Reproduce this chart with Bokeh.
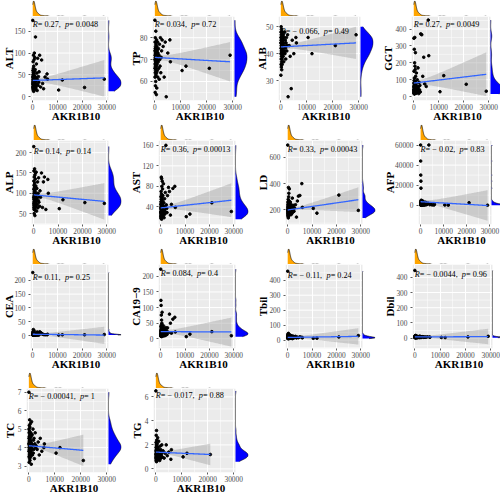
import numpy as np
from bokeh.plotting import figure
from bokeh.layouts import row, column
from bokeh.models import FixedTicker, Label, Range1d
from bokeh.embed import file_html
from bokeh.resources import INLINE

nan = float("nan")

# ---------------- data ----------------
AKR1B10 = [10, 25, 40, 55, 70, 85, 100, 115, 130, 145,
           160, 175, 190, 205, 220, 235, 250, 265, 280, 300,
           320, 340, 360, 380, 400, 420, 440, 460, 480, 500,
           525, 550, 575, 600, 630, 660, 690, 720, 750, 780,
           820, 860, 900, 950, 1000, 1060, 1120, 1200, 1300, 1400,
           1500, 1600, 1700, 1800, 1900, 2000, 2150, 2300, 2450, 2600,
           2800, 3200, 3600, 4000, 4400, 5000, 5800, 6000, 10500, 12000, 21000, 29000]

ALT = [30, 175, 45, 22, 60, 35, 18, 50, 28, 40, 80, 25, 33, 15, 55, 38, 20, 65, 42, 27,
       95, 32, 48, 12, 36, 70, 24, 44, 30, 30, 52, 26, 85, 40, 18, 100, 34, 58, 22, 90,
       28, 47, 16, 38, 62, 24, 137, 35, 20, 43, 75, 29, 54, 14, 39, 88, 26, 46, 33, 57,
       95, 22, 84, 30, 18, 45, 52, 40, 15, 38, 21, 40]
TP = [70, 88, 66, 74, 62, 72, 78, 68, 55, 75, 64, 71, 80, 67, 73, 58, 69, 76, 65, 72,
      60, 70, 74, 83, 68, 63, 77, 71, 66, 73, 69, 75, 54, 70, 67, 79, 64, 72, 57, 76,
      71, 68, 74, 65, 70, 78, 62, 73, 69, 75, 66, 72, 61, 77, 70, 67, 80, 64, 71, 74,
      79, 76, 62, 78, 53, 73, 79, 69, 65, 67, 66, 72]
ALB = [44, 32, 46, 40, 48, 42, 36, 45, 50, 38, 43, 47, 35, 41, 44, 49, 39, 46, 42, 37,
       45, 34, 43, 48, 40, 46, 41, 38, 44, 47, 36, 42, 45, 39, 43, 46, 41, 44, 48, 40,
       43, 45, 39, 47, 42, 44, 37, 46, 41, 43, 48, 40, 45, 42, 38, 44, 46, 41, 43, 47,
       24, 43, 39, 27, 45, 40, 46, 44, 46, 40, 43, 47]
GGT = [40, 60, 25, 345, 80, 35, 150, 20, 55, 30, 95, 45, 18, 280, 70, 28, 110, 50, 15, 65,
       38, 200, 22, 85, 42, 350, 30, 58, 180, 26, 75, 48, 160, 34, 90, 260, 52, 40, 120, 68,
       32, 55, 20, 78, 44, 140, 26, 62, 36, 100, 24, 48, 170, 30, 58, 18, 84, 40, 66, 28,
       371, 366, 120, 233, 75, 60, 453, 242, 29, 124, 73, 32]
ALP = [90, 215, 75, 110, 65, 130, 85, 155, 70, 100, 60, 120, 80, 95, 50, 140, 72, 105, 88, 62,
       115, 78, 160, 92, 68, 125, 82, 98, 45, 145, 76, 108, 86, 58, 135, 94, 70, 150, 102, 84,
       66, 118, 90, 74, 152, 80, 96, 56, 112, 88, 72, 128, 64, 100, 82, 138, 78, 92, 68, 106,
       90, 150, 65, 128, 140, 60, 134, 100, 62, 84, 77, 75]
AST = [30, 45, 22, 38, 60, 28, 18, 50, 35, 25, 70, 40, 20, 32, 55, 27, 98, 42, 24, 36,
       65, 30, 16, 48, 95, 26, 34, 80, 44, 21, 34, 38, 58, 29, 90, 33, 46, 25, 75, 52,
       28, 36, 62, 23, 42, 31, 85, 27, 48, 19, 34, 56, 26, 40, 68, 30, 160, 44, 37, 29,
       62, 78, 70, 24, 45, 76, 80, 39, 21, 26, 48, 31]
LD = [200, 692, 180, 220, 160, 240, 190, 260, 170, 210, 150, 230, 195, 280, 175, 205, 140, 250, 185, 215,
      371, 165, 225, 190, 300, 155, 245, 200, 327, 180, 210, 270, 160, 235, 195, 360, 175, 220, 185, 250,
      205, 170, 230, 190, 215, 260, 180, 200, 225, 165, 240, 195, 210, 175, 290, 185, 220, 200, 235, 190,
      215, 240, 146, 268, 305, 310, 400, 220, 212, 176, 313, 197]
AFP = [60000, 1200, 44000, 300, 2500, 30000, 800, 4000, 150, 24000, 600, 17000, 2000, 100, 3000, 500, 1500, 250, 5000, 900,
       50, 3500, 1800, 400, 700, 2200, 200, 1000, 3200, 80, 1400, 600, 2700, 350, 1100, 4500, 500, 1600, 900, 2000,
       300, 1300, 700, 2400, 150, 900, 3800, 450, 1200, 600, 2100, 250, 800, 1700, 400, 1000, 2900, 550, 1300, 700,
       800, 2000, 60000, 500, 1500, 300, 200, 1000, 200, 100, 2500, 50]
CEA = [3, 228, 5, 2, 8, 4, 12, 3, 6, 2, 15, 4, 3, 7, 2, 5, 22, 3, 9, 4,
       2, 6, 3, 11, 4, 2, 5, 8, 3, 6, 4, 18, 2, 7, 3, 5, 10, 4, 2, 6,
       3, 5, 2, 4, 9, 3, 6, 2, 4, 7, 3, 5, 2, 13, 4, 3, 6, 2, 5, 3,
       14, 11, 8, 5, 4, 3, 3, 5, 2, 3, 3, 4]
CA199 = [15, 223, 25, 10, 40, 18, 123, 8, 30, 12, 20, 107, 14, 35, 9, 22, 76, 16, 28, 11,
         45, 19, 60, 13, 24, 7, 33, 17, 50, 21, 10, 26, 85, 15, 38, 12, 23, 18, 30, 14,
         20, 27, 11, 34, 16, 42, 9, 25, 13, 31, 18, 22, 10, 28, 15, 36, 12, 19, 26, 14,
         35, 20, 79, 50, 18, 63, 69, 22, 7, 15, 23, 10]
TBIL = [15, 460, 20, 12, 30, 18, 10, 25, 40, 14, 16, 22, 35, 11, 19, 28, 13, 24, 17, 45,
        12, 20, 15, 32, 18, 10, 26, 14, 21, 38, 16, 23, 12, 19, 29, 15, 22, 17, 13, 27,
        14, 20, 11, 25, 17, 33, 13, 21, 16, 24, 12, 19, 28, 15, 22, 10, 18, 26, 14, 20,
        18, 25, 14, 20, 16, 22, 19, 15, 12, 13, 21, 30]
DBIL = [6, 445, 8, 4, 12, 5, 3, 9, 15, 5, 6, 7, 14, 4, 8, 10, 5, 11, 6, 18,
        4, 7, 5, 13, 6, 3, 9, 5, 8, 16, 6, 9, 4, 7, 11, 5, 8, 6, 4, 10,
        5, 7, 3, 9, 6, 12, 4, 8, 5, 7, 6, 10, 4, 8, 5, 13, 6, 7, 4, 9,
        7, 10, 5, 8, 6, 9, 7, 6, 5, 4, 8, 12]
TC = [4.2, 7.0, 3.8, 4.5, 5.0, 3.5, 4.0, 4.8, 3.2, 4.3, 4.6, 3.9, 5.2, 4.1, 3.6, 4.4, 4.9, 3.7, 4.2, 5.5,
      3.4, 4.0, 4.7, 3.8, 4.3, 5.1, 3.3, 4.5, 4.0, 3.9, 4.6, 3.6, 4.2, 5.3, 3.7, 4.4, 4.1, 3.5, 4.8, 4.0,
      4.3, 3.8, 4.6, 3.1, 4.0, 5.4, 3.9, 4.2, 4.7, 3.6, 4.1, 5.0, 3.7, 4.4, 3.9, 4.5, 3.4, 4.2, 4.8, 4.0,
      4.1, 3.9, 4.3, 3.6, 4.5, 3.8, 4.0, 4.2, 3.7, 4.0, 3.3, nan]
TG = [1.2, 6.5, 0.9, 1.5, 2.2, 1.0, 1.8, 0.7, 1.3, 2.8, 1.1, 1.6, 0.8, 2.0, 1.4, 0.6, 1.2, 3.2, 1.0, 1.7,
      0.9, 1.3, 2.4, 1.1, 0.8, 1.5, 1.9, 1.0, 1.2, 0.7, 1.6, 2.1, 1.3, 0.9, 1.4, 1.1, 2.6, 1.0, 1.8, 1.2,
      1.4, 0.8, 1.1, 1.7, 1.3, 0.9, 2.3, 1.2, 1.0, 1.5, 0.7, 1.3, 1.9, 1.1, 1.6, 0.9, 1.2, 2.0, 1.0, 1.4,
      1.5, 0.9, 1.3, 2.0, 1.1, 1.4, 0.8, 1.6, 1.0, 1.3, 1.2, nan]

NAMES = ["ALT", "TP", "ALB", "GGT", "ALP", "AST", "LD", "AFP", "CEA", "CA19\u22129", "Tbil", "Dbil", "TC", "TG"]
SERIES = [ALT, TP, ALB, GGT, ALP, AST, LD, AFP, CEA, CA199, TBIL, DBIL, TC, TG]
R_TEXT = ["0.27", "0.034", "\u2212 0.066", "0.27", "0.14", "0.36", "0.33", "\u2212 0.02",
          "0.11", "0.084", "\u2212 0.11", "\u2212 0.0044", "\u2212 0.00041", "\u2212 0.017"]
P_TEXT = ["0.0048", "0.72", "0.49", "0.0049", "0.14", "0.00013", "0.00043", "0.83",
          "0.25", "0.4", "0.24", "0.96", "1", "0.88"]
Y_TICKS = [[0, 50, 100, 150], [60, 70, 80], [30, 40, 50], [0, 100, 200, 300, 400],
           [50, 100, 150, 200], [40, 80, 120, 160], [200, 400, 600], [0, 20000, 40000, 60000],
           [0, 50, 100, 150, 200], [0, 50, 100, 150, 200], [0, 100, 200, 300, 400],
           [0, 100, 200, 300, 400], [3, 4, 5, 6, 7], [0, 2, 4, 6]]
Y_RANGE = [(-9, 184), (51.3, 89.7), (22.6, 53.8), (-23, 474), (23, 230), (5.7, 169.4),
           (90, 727), (-19200, 64500), (-46.5, 257), (-31, 238), (-56, 505), (-68, 484),
           (2.65, 7.2), (-0.3, 6.7)]
X_TICKS = [0, 10000, 20000, 30000]
X_MINOR = [5000, 15000, 25000]
X_RANGE = (-900, 30700)

# fitted regression line (value at x=0 and at x end) and confidence band at x end
FIT_START = [37, 71, 42.5, 80, 96, 38, 200, 3500, 5, 23, 18, 8, 4.1, 1.4]
FIT_END = [43, 69, 44, 132, 80, 53, 278, -300, 2, 22, 25, 10, 3.85, 1.2]
FIT_XEND = [29000] * 12 + [21000, 21000]
BAND_END_LO = [0, 60, 38, 3, 35, 20, 185, -15500, -30, -25, -30, -40, 3.0, 0.3]
BAND_END_HI = [84, 78, 50, 262, 125, 86, 372, 15000, 32, 68, 80, 62, 4.7, 2.1]

# ---------------- layout / style ----------------
CELL_W = 121
TOP_H = 16
MH = 84
BOT = 20
RW = 13
LEFT = [24, 20, 20, 26, 25, 25, 25, 32, 24, 25, 25, 25, 20, 20]
MAIN_W = [78, 82, 82, 79, 77, 77, 77, 73, 78, 77, 77, 80, 82, 82]
FONT = "Liberation Serif"
TICK_FS = 7.4
ANN_FS = 8.2
LAB_FS = 11
PANEL_BG = "#EBEBEB"


def text_w(s, fs):
    w = {'.': 0.25, ',': 0.25, ' ': 0.25, '=': 0.564, '\u2212': 0.564, 'R': 0.611, 'p': 0.5}
    return sum(w.get(c, 0.5) for c in s) * fs


def kde(vals):
    v = np.asarray(vals, float)
    v = v[~np.isnan(v)]
    sd = v.std(ddof=1)
    q75, q25 = np.percentile(v, [75, 25])
    iqr = (q75 - q25) / 1.34
    s = min(sd, iqr) if iqr > 0 else sd
    bw = 0.9 * s * len(v) ** -0.2
    g = np.linspace(v.min(), v.max(), 400)
    d = np.exp(-0.5 * ((g[:, None] - v[None, :]) / bw) ** 2).sum(1) / (len(v) * bw * np.sqrt(2 * np.pi))
    return g, d


def minor_ticks(ticks, lo, hi):
    step = ticks[1] - ticks[0]
    ext = [ticks[0] - step] + list(ticks)
    return [t + step / 2 for t in ext if lo <= t + step / 2 <= hi]


def make_cell(i):
    L, MW = LEFT[i], MAIN_W[i]
    RB = CELL_W - L - MW - RW
    ylo, yhi = Y_RANGE[i]
    xlo, xhi = X_RANGE
    xv = np.asarray(AKR1B10, float)
    yv = np.asarray(SERIES[i], float)
    ok = ~np.isnan(yv)
    xv, yv = xv[ok], yv[ok]

    # main frame = scatter panel + right marginal strip
    x_end_total = xhi + (xhi - xlo) * RW / MW
    main = figure(frame_width=MW + RW, frame_height=MH, x_range=Range1d(xlo, x_end_total),
                  y_range=Range1d(ylo, yhi),
                  output_backend="svg", toolbar_location=None,
                  min_border_left=L, min_border_right=RB, min_border_top=0, min_border_bottom=BOT,
                  background_fill_color="white", border_fill_color="white", outline_line_color=None)
    main.quad(left=xlo, right=xhi, bottom=ylo, top=yhi, fill_color=PANEL_BG, line_color=None, level="image")
    yt = Y_TICKS[i]
    ym = minor_ticks(yt, ylo, yhi)
    main.xaxis.ticker = FixedTicker(ticks=X_TICKS, minor_ticks=X_MINOR)
    main.yaxis.ticker = FixedTicker(ticks=yt, minor_ticks=ym)
    main.xgrid.grid_line_color = "white"
    main.xgrid.grid_line_width = 1
    main.xgrid.minor_grid_line_color = "white"
    main.xgrid.minor_grid_line_width = 0.5
    main.ygrid.visible = False
    main.segment(x0=xlo, x1=xhi, y0=ym, y1=ym, line_color="white", line_width=0.5, level="underlay")
    main.segment(x0=xlo, x1=xhi, y0=yt, y1=yt, line_color="white", line_width=1, level="underlay")
    for ax in (main.xaxis, main.yaxis):
        ax.axis_line_color = None
        ax.major_tick_line_color = "#333333"
        ax.major_tick_line_width = 0.8
        ax.major_tick_out = 2
        ax.major_tick_in = 0
        ax.minor_tick_line_color = None
        ax.major_label_text_font = FONT
        ax.major_label_text_font_size = f"{TICK_FS}px"
        ax.major_label_text_color = "#4D4D4D"
        ax.axis_label_text_font = FONT
        ax.axis_label_text_font_style = "bold"
        ax.axis_label_text_font_size = f"{LAB_FS}px"
        ax.axis_label_text_color = "black"
    main.xaxis.axis_label = "AKR1B10"
    main.xaxis.major_label_standoff = -1
    main.xaxis.axis_label_standoff = -3
    main.yaxis.axis_label = NAMES[i]
    main.yaxis.major_label_standoff = 1
    lab_w = max(text_w(str(t), TICK_FS) for t in yt)
    main.yaxis.axis_label_standoff = int(np.floor(L - 2 - 1 - lab_w - LAB_FS * 1.2 - 0.5))

    # confidence band + regression line
    xend = FIT_XEND[i]
    xs = np.linspace(xv.min(), xend, 80)
    fit = FIT_START[i] + (FIT_END[i] - FIT_START[i]) * xs / xend
    hwe = (BAND_END_HI[i] - BAND_END_LO[i]) / 2
    h0 = 0.13 * hwe
    xm = 2500
    hw = np.sqrt(h0 ** 2 + (hwe ** 2 - h0 ** 2) * ((xs - xm) / (xend - xm)) ** 2)
    cen_shift = (BAND_END_HI[i] + BAND_END_LO[i]) / 2 - FIT_END[i]
    cen = fit + cen_shift * ((xs - xm) / (xend - xm)) ** 2 * (xs > xm)
    main.varea(x=xs, y1=cen - hw, y2=cen + hw, fill_color="#999999", fill_alpha=0.4)
    main.scatter(xv, yv, size=2.6, color="black")
    main.line(xs, fit, line_color="#3366FF", line_width=1.3)

    # right marginal (density of the y variable) on its own x scale
    gy, dy = kde(yv)
    dtop = dy.max() * 1.03
    main.extra_x_ranges = {"dens": Range1d(-dtop * MW / RW, dtop)}
    main.harea(y=gy, x1=0, x2=dy, fill_color="blue", x_range_name="dens")
    main.line(dy, gy, line_color="black", line_width=0.6, x_range_name="dens")

    # correlation annotation
    parts = [("R", "italic"), (" = " + R_TEXT[i] + ", ", "normal"), ("p", "italic"), (" = " + P_TEXT[i], "normal")]
    off = 0.0
    for txt, st in parts:
        main.add_layout(Label(x=float(xv.min()), y=float(yv.max()), x_offset=off, text=txt,
                              text_font=FONT, text_font_style=st, text_font_size=f"{ANN_FS}px",
                              text_baseline="top", text_align="left", text_color="black"))
        off += text_w(txt, ANN_FS)

    # top marginal (AKR1B10 density)
    gx, dx = kde(xv)
    top = figure(frame_width=MW, frame_height=TOP_H, x_range=Range1d(xlo, xhi), y_range=Range1d(0, dx.max() * 1.03),
                 output_backend="svg", toolbar_location=None, x_axis_type=None, y_axis_type=None,
                 min_border_left=L, min_border_right=RW + RB, min_border_top=0, min_border_bottom=0,
                 outline_line_color=None, background_fill_color="white")
    top.varea(x=gx, y1=0, y2=dx, fill_color="orange")
    top.line(gx, dx, line_color="black", line_width=0.6)

    return column(top, main)


cells = [make_cell(i) for i in range(len(NAMES))]
layout = column(row(*cells[0:4]), row(*cells[4:8]), row(*cells[8:12]), row(*cells[12:14]))

open("out.html", "w").write(file_html(layout, INLINE))
